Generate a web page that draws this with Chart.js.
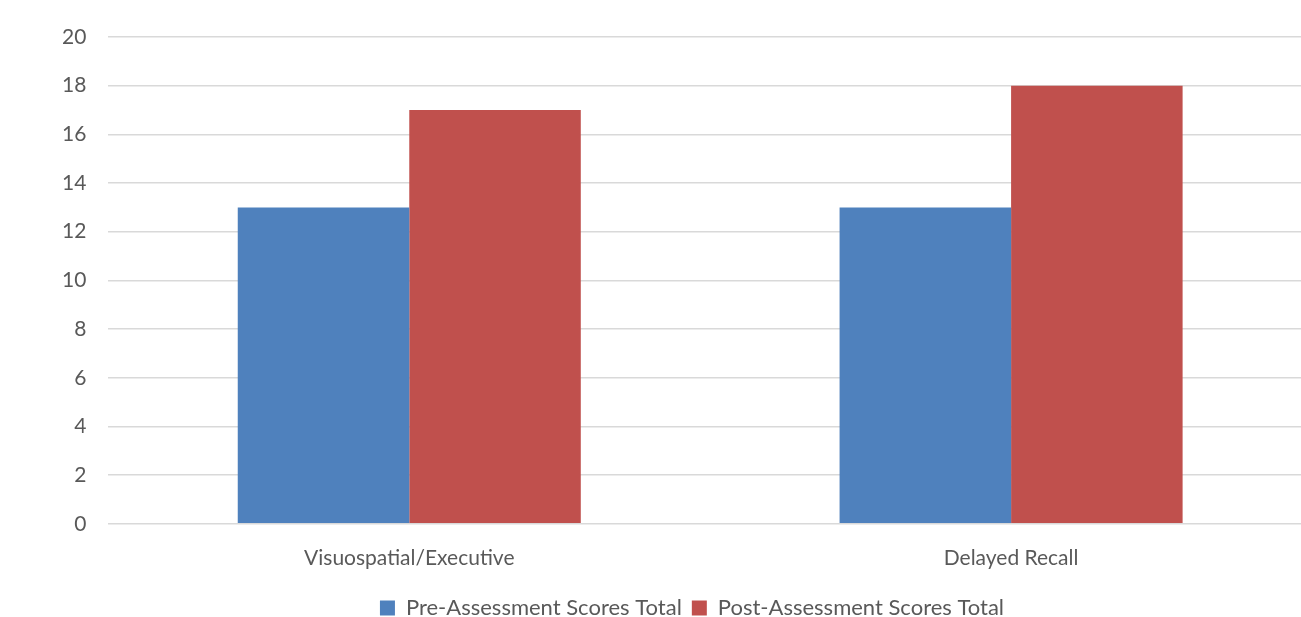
<!DOCTYPE html>
<html>
<head>
<meta charset="utf-8">
<script src="https://cdn.jsdelivr.net/npm/chart.js@4"></script>
<style>
  html, body { margin: 0; padding: 0; background: #fff; overflow: hidden; }
  #wrap { width: 1312px; height: 617px; }
</style>
</head>
<body>
<div id="wrap"><canvas id="grafico"></canvas></div>
<script>
const categorias = ['Visuospatial/Executive', 'Delayed Recall'];
const preScores = [13, 13];
const postScores = [17, 18];
const nomesSeries = ['Pre-Assessment Scores Total', 'Post-Assessment Scores Total'];

// Legend in the source is centred on the whole chart, a bit right of the canvas middle
const deslocaLegenda = {
  id: 'deslocaLegenda',
  afterLayout(chart) {
    chart.legend.left += 16;
    chart.legend.right += 16;
  }
};

new Chart(document.getElementById('grafico'), {
  type: 'bar',
  data: {
    labels: categorias,
    datasets: [
      { label: nomesSeries[0], data: preScores, backgroundColor: '#4F81BD' },
      { label: nomesSeries[1], data: postScores, backgroundColor: '#C0504D' }
    ]
  },
  options: {
    responsive: true,
    maintainAspectRatio: false,
    animation: false,
    categoryPercentage: 0.57,
    barPercentage: 1,
    layout: { padding: { top: 37, left: 40, bottom: -12 } },
    scales: {
      x: {
        afterFit(axis) { axis.height += 2; },
        grid: { display: false },
        border: { color: '#D9D9D9' },
        ticks: { color: '#595959', font: { family: 'Lato', size: 21 }, padding: 14 }
      },
      y: {
        min: 0, max: 20,
        ticks: { stepSize: 2, color: '#595959', font: { family: 'Lato', size: 21 }, padding: 22 },
        grid: { color: '#D9D9D9', lineWidth: 1.5, drawTicks: false },
        border: { display: false }
      }
    },
    plugins: {
      legend: {
        position: 'bottom',
        labels: {
          color: '#595959', font: { family: 'Lato', size: 22 },
          boxWidth: 15, boxHeight: 15, padding: 10
        }
      },
      tooltip: { enabled: false }
    }
  },
  plugins: [deslocaLegenda]
});
</script>
</body>
</html>
